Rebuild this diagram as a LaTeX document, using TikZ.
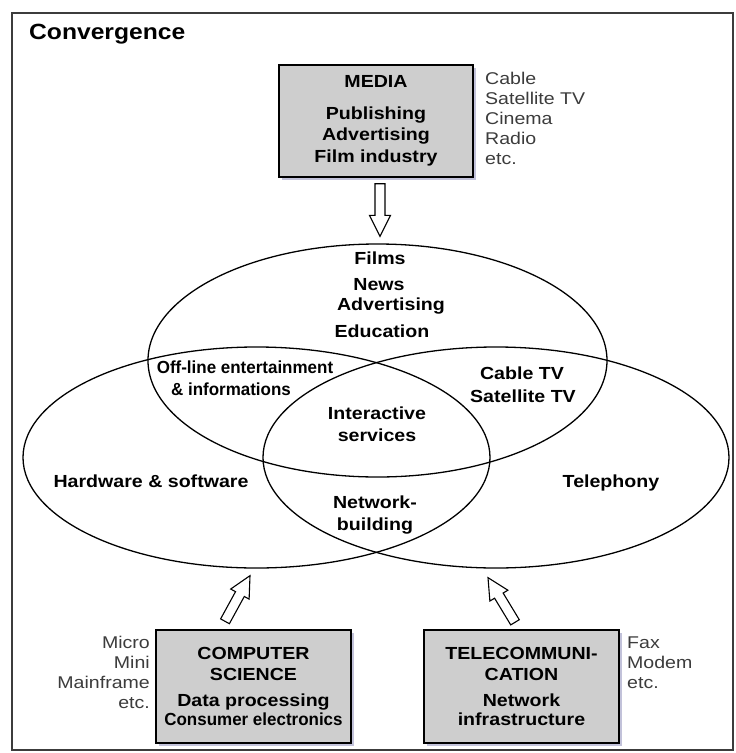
\documentclass[tikz,border=0pt]{standalone}
\usepackage{fontspec}
\setmainfont{Liberation Sans}
\newfontfamily\wfont[FakeStretch=1.12]{Liberation Sans}
\newfontfamily\cfont[FakeStretch=0.97]{Liberation Sans}
\newfontfamily\rfont[FakeStretch=1.15]{Liberation Sans}
\usetikzlibrary{shapes.geometric,shadows,calc}
\definecolor{boxgray}{RGB}{206,206,206}
\definecolor{shadowcol}{RGB}{120,120,175}
\definecolor{listgray}{RGB}{60,60,60}
\definecolor{framecol}{RGB}{60,60,60}
\tikzset{
  boxnode/.style={draw=black, line width=1.4pt, fill=boxgray, minimum width=194pt, minimum height=112pt, inner sep=0pt, align=center,
    font=\wfont\bfseries\fontsize{17.5}{21.5}\selectfont,
    drop shadow={shadow xshift=3pt, shadow yshift=-3pt, fill=shadowcol, opacity=0.45}},
  venn/.style={draw=black, line width=1.3pt, ellipse, inner sep=0pt},
  lbl/.style={anchor=base, inner sep=0pt, font=\wfont\bfseries\fontsize{17.5}{21}\selectfont},
  clbl/.style={anchor=base, inner sep=0pt, font=\cfont\bfseries\fontsize{17.5}{21}\selectfont},
  side/.style={inner sep=0pt, text=listgray, font=\rfont\fontsize{17}{20}\selectfont},
  blockarrow/.style={draw=black, line width=1.1pt, fill=white, line join=miter},
  framebox/.style={draw=framecol, line width=1.6pt},
}
\newcommand\hollowarrow[2]{%
  \coordinate (#1-hb) at ($(#2)!21pt!(#1)$);
  \draw[blockarrow] ($(#1)!5pt!90:(#2)$) -- ($(#1-hb)!5pt!90:(#2)$) -- ($(#1-hb)!10.5pt!90:(#2)$) -- (#2)
    -- ($(#1-hb)!10.5pt!-90:(#2)$) -- ($(#1-hb)!5pt!-90:(#2)$) -- ($(#1)!5pt!-90:(#2)$) -- cycle;
}
\begin{document}
\begin{tikzpicture}[x=1pt,y=-1pt]
\useasboundingbox (0,0) rectangle (736,753);
\fill[white] (0,0) rectangle (736,753);
\draw[framebox] (12,13) rectangle (733,750);
\node[anchor=base west, inner sep=0pt, font=\wfont\bfseries\fontsize{22}{26}\selectfont] (title) at (29,39) {Convergence};

% boxes
\node[boxnode] (media) at (376,121) {MEDIA\\[10pt]Publishing\\Advertising\\Film industry};
\node[boxnode, minimum width=195pt, minimum height=113pt] (comp) at (253.5,686.5) {COMPUTER\\SCIENCE\\[4pt]Data processing\\[-2pt]{\cfont Consumer electronics}};
\node[boxnode, minimum width=195pt, minimum height=113pt] (tele) at (521.5,686.5) {TELECOMMUNI-\\CATION\\[4pt]Network\\[-2pt]infrastructure};

% side lists (base = baseline of the last line)
\node[side, align=left, anchor=base west] (medialist) at (485,164) {Cable\\Satellite TV\\Cinema\\Radio\\etc.};
\node[side, align=right, anchor=base east] (complist) at (150,708) {Micro\\Mini\\Mainframe\\etc.};
\node[side, align=left, anchor=base west] (telelist) at (627,688) {Fax\\Modem\\etc.};

% ellipses
\node[venn, minimum width=459pt, minimum height=233pt] (top) at (377.5,360.5) {};
\node[venn, minimum width=467pt, minimum height=221pt] (left) at (256.5,457.5) {};
\node[venn, minimum width=466pt, minimum height=221pt] (right) at (496,457.5) {};

% labels
\node[lbl] (films) at (380,264) {Films};
\node[lbl] (news) at (379,290) {News};
\node[lbl] (adv) at (391,310) {Advertising};
\node[lbl] (edu) at (382,337) {Education};
\node[clbl] (offline) at (245,373) {Off-line entertainment};
\node[clbl] (infos) at (231,395) {\& informations};
\node[lbl] (cabletv) at (522,379) {Cable TV};
\node[lbl] (sattv) at (523,402) {Satellite TV};
\node[lbl] (inter) at (377,419) {Interactive};
\node[lbl] (serv) at (377,441) {services};
\node[lbl] (hw) at (151,487) {Hardware \& software};
\node[lbl] (tel) at (611,487) {Telephony};
\node[lbl] (netw) at (375,508) {Network-};
\node[lbl] (build) at (375,530) {building};

% arrows
\coordinate (dnT) at ($(media.south)+(4,6)$);
\coordinate (dnH) at ($(top.north)+(2.5,-7)$);
\coordinate (lfT) at ($(comp.north)+(-28.5,-8)$);
\coordinate (lfH) at ($(left.south)+(-6.5,7)$);
\coordinate (rtT) at ($(tele.north)+(-6.5,-7)$);
\coordinate (rtH) at ($(right.south)+(-8,9)$);
\hollowarrow{dnT}{dnH}
\hollowarrow{lfT}{lfH}
\hollowarrow{rtT}{rtH}
\end{tikzpicture}
\end{document}
